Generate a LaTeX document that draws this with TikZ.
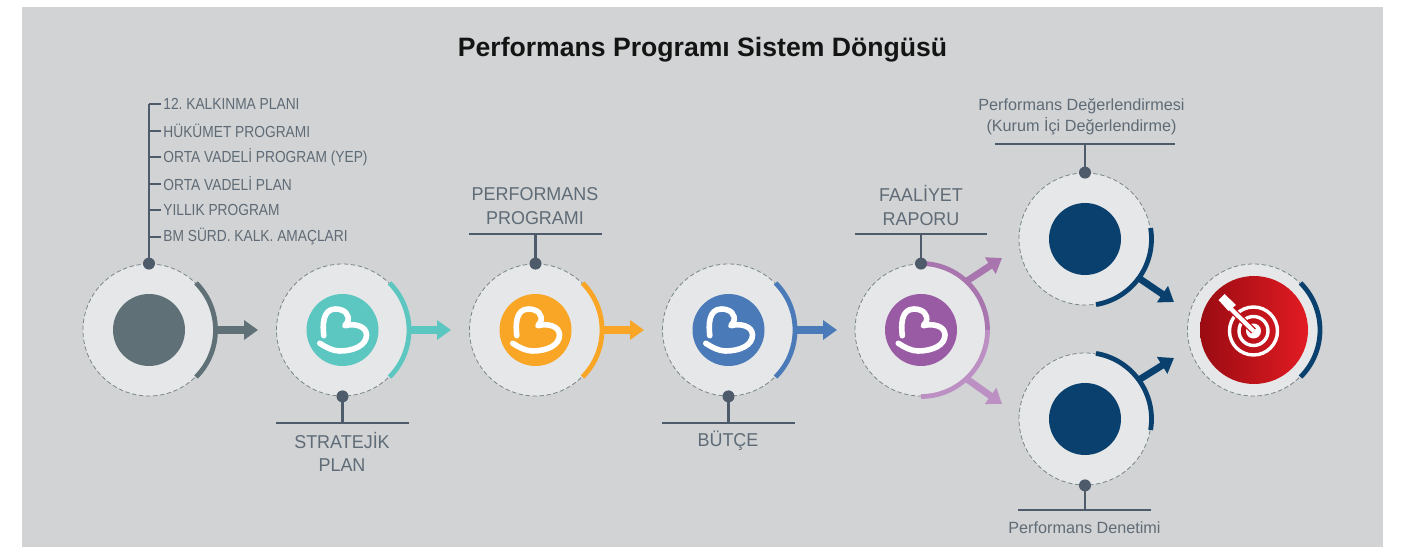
\documentclass[tikz,border=0pt]{standalone}
\usepackage{fontspec}
\setmainfont{Liberation Sans}
\newfontfamily\listf[FakeStretch=0.86]{Liberation Sans}
\newfontfamily\bigf[FakeStretch=0.965]{Liberation Sans}
\usetikzlibrary{arrows.meta,calc}
\definecolor{pagegray}{HTML}{D1D3D4}
\definecolor{discgray}{HTML}{E6E7E8}
\definecolor{ink}{HTML}{4D5B6A}
\definecolor{txt}{HTML}{5F6B76}
\definecolor{slate}{HTML}{5F7177}
\definecolor{teal}{HTML}{5CC6C0}
\definecolor{orangey}{HTML}{F9A526}
\definecolor{bluey}{HTML}{4A7AB8}
\definecolor{purp}{HTML}{9A5BA5}
\definecolor{purpa}{HTML}{A975AF}
\definecolor{purpb}{HTML}{BD90C4}
\definecolor{navy}{HTML}{0A406E}
\definecolor{redd}{HTML}{9A0B12}
\definecolor{redl}{HTML}{E21B23}
\tikzset{
  x=0.5pt,y=0.5pt,
  disc/.style={circle,fill=discgray,draw=slate!85,line width=0.4pt,dash pattern=on 2.2pt off 1.3pt,minimum size=66pt,inner sep=0pt},
  core/.style={circle,fill=#1,minimum size=36pt,inner sep=0pt},
  dotnode/.style={circle,fill=ink,minimum size=6pt,inner sep=0pt},
  stem/.style={draw=ink,line width=1.4pt},
  tick/.style={draw=ink,line width=0.7pt},
  rim/.style={line width=2.4pt},
  arr/.style={draw=#1,line width=4pt,-{Triangle[length=7pt,width=9.5pt]},{#1}},
  darr/.style={draw=#1,line width=3.4pt,-{Triangle[length=7pt,width=9.5pt]},{#1}},
  biglabel/.style={text=txt,font=\bigf\fontsize{9.3}{12}\selectfont,align=center,inner sep=0pt},
  listlabel/.style={text=txt,font=\listf\fontsize{8}{10}\selectfont,anchor=west,inner sep=0pt},
  smalllabel/.style={text=txt,font=\fontsize{8.1}{10.5}\selectfont,align=center,inner sep=0pt},
  heartlogo/.pic={
    \draw[white,line width=2.8pt,line cap=round,line join=round]
      (-18.7,-5.7) .. controls (-20,5) and (-20,21) .. (-7,21)
      .. controls (2,21) and (8,15) .. (5,8) -- (2.3,4.3)
      .. controls (12,7) and (24,4) .. (24,-5)
      .. controls (24,-15) and (12,-21) .. (-3,-21)
      .. controls (-10,-21) and (-17,-17) .. (-22.7,-13.3);
  },
}
\begin{document}
\begin{tikzpicture}
\useasboundingbox (0,0) rectangle (1421,547);
\fill[white] (0,0) rectangle (1421,547);
\fill[pagegray] (22,0) rectangle (1383,540);
\node[font=\fontsize{13.3}{15}\bfseries\selectfont,text=black!92,inner sep=0pt] (title) at (702.5,497.5) {Performans Programı Sistem Döngüsü};

% coordinates for arrow tips
\coordinate (t1) at (258,217);
\coordinate (t2) at (451,217);
\coordinate (t3) at (644,217);
\coordinate (t4) at (837,217);
\coordinate (t5a) at (1002,289);
\coordinate (t5b) at (1002,143);
\coordinate (t6a) at (1174,245);
\coordinate (t6b) at (1174,189);

% discs
\node[disc] (c1) at (149,217) {};
\node[disc] (c2) at (342.5,217) {};
\node[disc] (c3) at (535.5,217) {};
\node[disc] (c4) at (728.5,217) {};
\node[disc] (c5) at (921,217) {};
\node[disc] (c6) at (1085,308) {};
\node[disc] (c7) at (1085,128) {};
\node[disc] (c8) at (1253.5,217) {};

% arrows
\draw[arr=slate] (c1.east) -- (t1);
\draw[arr=teal] (c2.east) -- (t2);
\draw[arr=orangey] (c3.east) -- (t3);
\draw[arr=bluey] (c4.east) -- (t4);
\draw[darr=purpa] (c5.47) -- (t5a);
\draw[darr=purpb] (c5.-47) -- (t5b);
\draw[darr=navy] (c6.-36) -- (t6a);
\draw[darr=navy] (c7.36) -- (t6b);

% rims
\draw[rim,slate] ($(c1)+(45:66.5)$) arc[start angle=45,end angle=-45,radius=66.5];
\draw[rim,teal] ($(c2)+(45:66.5)$) arc[start angle=45,end angle=-45,radius=66.5];
\draw[rim,orangey] ($(c3)+(45:66.5)$) arc[start angle=45,end angle=-45,radius=66.5];
\draw[rim,bluey] ($(c4)+(45:66.5)$) arc[start angle=45,end angle=-45,radius=66.5];
\draw[rim,purpa] ($(c5)+(90:66.5)$) arc[start angle=90,end angle=0,radius=66.5];
\draw[rim,purpb] ($(c5)+(0:66.5)$) arc[start angle=0,end angle=-90,radius=66.5];
\draw[rim,navy] ($(c6)+(9.5:66.5)$) arc[start angle=9.5,end angle=-80.5,radius=66.5];
\draw[rim,navy] ($(c7)+(80.5:66.5)$) arc[start angle=80.5,end angle=-9.5,radius=66.5];
\draw[rim,navy] ($(c8)+(45:66.5)$) arc[start angle=45,end angle=-45,radius=66.5];

% centres
\node[core=slate] (i1) at (c1) {};
\node[core=teal] (i2) at (c2) {};
\node[core=orangey] (i3) at (c3) {};
\node[core=bluey] (i4) at (c4) {};
\node[core=purp] (i5) at (c5) {};
\node[core=navy] (i6) at (c6) {};
\node[core=navy] (i7) at (c7) {};
\pic at (i2) {heartlogo};
\pic at (i3) {heartlogo};
\pic at (i4) {heartlogo};
\pic at (i5) {heartlogo};

% target
\node[circle,minimum size=54pt,inner sep=0pt,left color=redd,right color=redl] (i8) at (1254,217) {};
\draw[white,line width=1.7pt] ($(i8)+(-0.5,-1)$) circle[radius=24];
\draw[white,line width=1.7pt] ($(i8)+(-0.5,-1)$) circle[radius=14.5];
\fill[white] ($(i8)+(-0.5,-1)$) circle[radius=7.5];
\draw[redl!60!redd,line width=3.4pt] ($(i8)+(-0.5,-1)$) -- ($(i8)+(-26,24)$);
\draw[white,line width=2.1pt] ($(i8)+(-0.5,-1)$) -- ($(i8)+(-26,24)$);
\fill[white] ($(i8)+(-35.5,30)$) -- ($(i8)+(-29.5,36)$) -- ($(i8)+(-18,25)$) -- ($(i8)+(-25.5,19)$) -- cycle;

% lollipops
\node[dotnode] (d1) at (c1.north) {};
\coordinate (s1) at (149,443);
\draw[stem] (d1.center) -- (s1);
\coordinate (l1) at (149,443); \coordinate (l2) at (149,416); \coordinate (l3) at (149,390);
\coordinate (l4) at (149,363); \coordinate (l5) at (149,337); \coordinate (l6) at (149,310);
\node[listlabel] (n1) at (163,443) {12.\ KALKINMA PLANI};
\node[listlabel] (n2) at (163,416) {HÜKÜMET PROGRAMI};
\node[listlabel] (n3) at (163,390) {ORTA VADELİ PROGRAM (YEP)};
\node[listlabel] (n4) at (163,363) {ORTA VADELİ PLAN};
\node[listlabel] (n5) at (163,337) {YILLIK PROGRAM};
\node[listlabel] (n6) at (163,310) {BM SÜRD. KALK. AMAÇLARI};
\foreach \i in {1,...,6}{\draw[tick] (l\i) -- ($(n\i.west)+(-2,0)$);}

\node[dotnode] (d2) at (c2.south) {};
\coordinate (b2) at (342.5,124);
\draw[stem] (d2.center) -- (b2);
\draw[stem] (276,124) coordinate (b2l) -- (409,124) coordinate (b2r);
\node[biglabel] (n7) at (342,95) {STRATEJİK\\[-0.9pt]PLAN};

\node[dotnode] (d3) at (c3.north) {};
\coordinate (b3) at (535.5,313);
\draw[stem] (d3.center) -- (b3);
\draw[stem] (469,313) coordinate (b3l) -- (602,313) coordinate (b3r);
\node[biglabel] (n8) at (535,341) {PERFORMANS\\PROGRAMI};

\node[dotnode] (d4) at (c4.south) {};
\coordinate (b4) at (728.5,124);
\draw[stem] (d4.center) -- (b4);
\draw[stem] (662,124) coordinate (b4l) -- (795,124) coordinate (b4r);
\node[biglabel] (n9) at (728,106) {BÜTÇE};

\node[dotnode] (d5) at (c5.north) {};
\coordinate (b5) at (921,313);
\draw[stem] (d5.center) -- (b5);
\draw[stem] (855,313) coordinate (b5l) -- (987,313) coordinate (b5r);
\node[biglabel] (n10) at (921,341) {FAALİYET\\RAPORU};

\node[dotnode] (d6) at (c6.north) {};
\coordinate (b6) at (1085,403);
\draw[stem] (d6.center) -- (b6);
\draw[stem] (995,403) coordinate (b6l) -- (1175,403) coordinate (b6r);
\node[smalllabel] (n11) at (1081.5,430) {Performans Değerlendirmesi\\(Kurum İçi Değerlendirme)};

\node[dotnode] (d7) at (c7.south) {};
\coordinate (b7) at (1085,37);
\draw[stem] (d7.center) -- (b7);
\draw[stem] (1018,37) coordinate (b7l) -- (1151,37) coordinate (b7r);
\node[smalllabel] (n12) at (1084.5,19) {Performans Denetimi};
\end{tikzpicture}
\end{document}
